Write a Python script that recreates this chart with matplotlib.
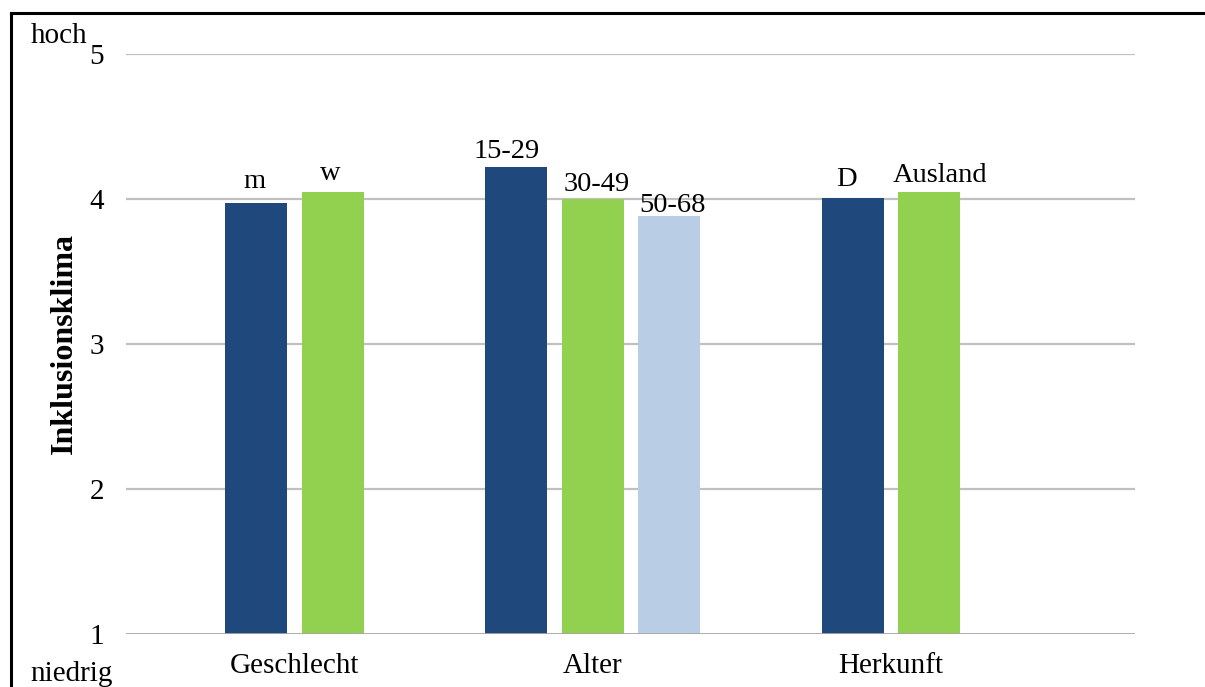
import matplotlib
matplotlib.use("Agg")
import matplotlib.pyplot as plt
from matplotlib.lines import Line2D

plt.rcParams['font.family'] = ['Liberation Serif', 'DejaVu Serif']

# Categories and bar groups
categories = ["Geschlecht", "Alter", "Herkunft"]
group_labels = [["m", "w"], ["15-29", "30-49", "50-68"], ["D", "Ausland"]]
group_values = [[3.97, 4.05], [4.22, 4.00, 3.88], [4.01, 4.05]]
y_ticks = [1, 2, 3, 4, 5]

# Styling
bar_colors = ["#1F497D", "#92D050", "#B9CDE5"]
# label nudges in points (dx, dy above bar top) for each bar
label_nudges = [[(-1, 11), (-1.5, 8.5)],
                [(-7, 6.5), (2.5, 6), (2.5, 3.5)],
                [(-4.5, 8.5), (7.5, 7)]]

W, H = 1205, 687
FS = 21
fig = plt.figure(figsize=(W / 100, H / 100), dpi=100)
ax = fig.add_axes([126 / W, 1 - 634 / H, (1135 - 126) / W, (634 - 54) / H])

step = 0.2565
width = 0.208
for ci, (labels, values) in enumerate(zip(group_labels, group_values)):
    n = len(values)
    for bi, (lab, val) in enumerate(zip(labels, values)):
        x = ci + (bi - (n - 1) / 2) * step
        ax.bar(x, val - 1, bottom=1, width=width, color=bar_colors[bi], zorder=3)
        dx, dy = label_nudges[ci][bi]
        ax.annotate(lab, (x, val), xytext=(dx, dy), textcoords="offset points",
                    ha="center", va="baseline", fontsize=FS - 0.5, color="black")

ax.set_xlim(-0.565, 2.818)
ax.set_ylim(1, 5)
ax.set_yticks(y_ticks)
ax.set_yticklabels([str(t) for t in y_ticks], fontsize=FS)
ax.set_xticks(range(len(categories)))
ax.set_xticklabels(categories, fontsize=FS)
ax.tick_params(axis="y", length=0, pad=16)
ax.tick_params(axis="x", length=0, pad=14)

for t in y_ticks[1:]:
    ax.axhline(t, color="#C0C0C0", lw=1.6, zorder=1)
ax.axhline(1, color="#A6A6A6", lw=2.0, zorder=4)

for s in ax.spines.values():
    s.set_visible(False)

ax.set_ylabel("Inklusionsklima", fontsize=23, fontweight="bold")
ax.yaxis.set_label_coords((79 - 126) / (1135 - 126), 0.5)

fig.text(31 / W, 1 - 43 / H, "hoch", fontsize=FS, ha="left", va="baseline")
fig.text(30 / W, 1 - 681 / H, "niedrig", fontsize=FS, ha="left", va="baseline")

# Frame around the chart (left and top edges inside the canvas)
fig.add_artist(Line2D([11 / W, 11 / W], [0, 1 - 13 / H], color="black", lw=2.2,
                      transform=fig.transFigure))
fig.add_artist(Line2D([11 / W, 1], [1 - 13 / H, 1 - 13 / H], color="black", lw=2.2,
                      transform=fig.transFigure))

fig.savefig("out.png", dpi=100)
